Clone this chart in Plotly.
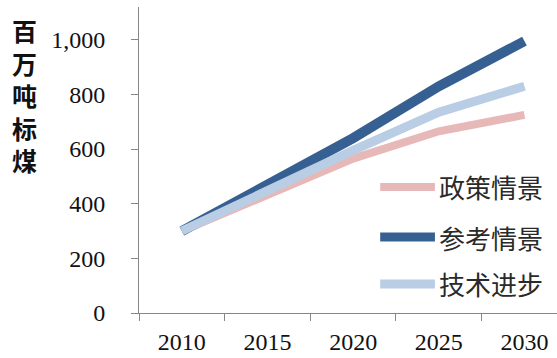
import plotly.graph_objects as go

# Energy demand scenarios, million tonnes of coal equivalent
years = ["2010", "2015", "2020", "2025", "2030"]
policy = [300, 430, 565, 665, 725]      # 政策情景
reference = [300, 465, 640, 830, 995]   # 参考情景
technology = [300, 450, 595, 735, 830]  # 技术进步

series_names = ["政策情景", "参考情景", "技术进步"]
series_colors = ["#E6B9B8", "#376092", "#B9CDE5"]
series_widths = [8, 10, 9]
series_values = [policy, reference, technology]

y_title_chars = ["百", "万", "吨", "标", "煤"]

fig = go.Figure()
for name, vals, color, width in zip(series_names, series_values, series_colors, series_widths):
    fig.add_trace(go.Scatter(
        x=years, y=vals, name=name, mode="lines",
        line=dict(color=color, width=width),
        showlegend=False,
    ))

# Legend drawn as swatches + labels inside the plot area
legend_y = [0.412, 0.248, 0.095]
for name, color, width, ly in zip(series_names, series_colors, series_widths, legend_y):
    fig.add_shape(type="line", xref="paper", yref="paper",
                  x0=0.577, x1=0.708, y0=ly, y1=ly,
                  line=dict(color=color, width=width if width < 10 else 9))
    fig.add_annotation(xref="paper", yref="paper", x=0.714, y=ly,
                       text=name, showarrow=False, xanchor="left", yanchor="middle",
                       font=dict(family="Noto Sans CJK SC", size=26, color="#2a2a2a"))

# Vertical axis title, one character per line
fig.add_annotation(xref="paper", yref="paper", x=-0.273, y=0.99,
                   text="<br>".join(y_title_chars), showarrow=False,
                   xanchor="center", yanchor="top", align="center",
                   font=dict(family="Noto Sans CJK SC", size=25, color="#111111", weight=700))

axis_color = "#868686"
tick_font = dict(family="Liberation Serif", size=24, color="#111111")

fig.update_layout(
    width=557, height=358,
    margin=dict(l=139, r=0, t=7, b=45),
    paper_bgcolor="white", plot_bgcolor="white",
    xaxis=dict(
        type="category", range=[-0.5, 4.38], tickson="boundaries",
        showline=True, linecolor=axis_color, linewidth=1,
        ticks="outside", ticklen=7, tickcolor=axis_color,
        showgrid=False, zeroline=False, tickfont=tick_font,
        ticklabelstandoff=7,
    ),
    yaxis=dict(
        range=[0, 1120], tickmode="array", tickvals=[0, 200, 400, 600, 800, 1000],
        tickformat=",d",
        showline=True, linecolor=axis_color, linewidth=1,
        ticks="outside", ticklen=7, tickcolor=axis_color,
        showgrid=False, zeroline=False, tickfont=tick_font,
        ticklabelstandoff=21,
    ),
)

fig.write_html("out.html")
